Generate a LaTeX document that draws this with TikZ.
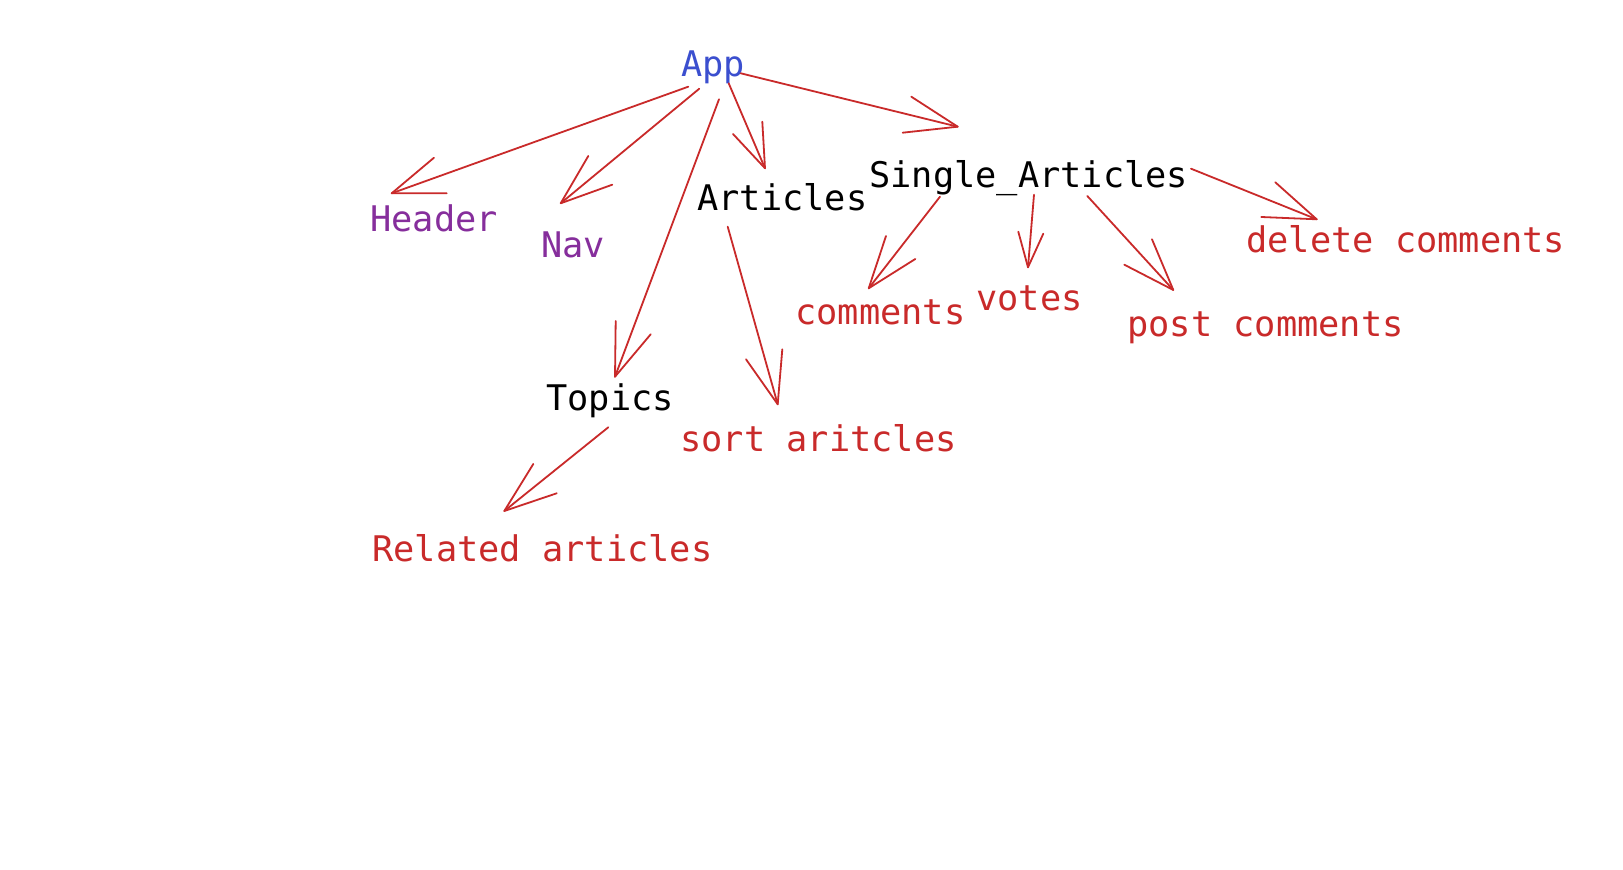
\documentclass[tikz,border=0pt]{standalone}
\usepackage{fontspec}
\setmonofont{DejaVu Sans Mono}
\definecolor{exred}{HTML}{C92A2A}
\definecolor{exviolet}{HTML}{862E9C}
\definecolor{exblue}{HTML}{3B4FCF}
\begin{document}
\begin{tikzpicture}[x=0.5pt,y=-0.5pt,
  lbl/.style={anchor=base west,inner sep=0pt,font=\ttfamily\fontsize{17.65}{20}\selectfont},
  conn/.style={draw=exred,line width=0.9pt,line cap=round,line join=round}]
\useasboundingbox[fill=white] (0,0) rectangle (1623,870);
% labels
\node[lbl,text=exblue] (app) at (681,77) {App};
\node[lbl,text=exviolet] (header) at (370,232) {Header};
\node[lbl,text=exviolet] (nav) at (541,258) {Nav};
\node[lbl,text=black] (articles) at (697,211) {Articles};
\node[lbl,text=black] (single) at (869,188) {Single\_Articles};
\node[lbl,text=exred] (comments) at (795,325) {comments};
\node[lbl,text=exred] (votes) at (976,311) {votes};
\node[lbl,text=exred] (post) at (1127,337) {post comments};
\node[lbl,text=exred] (delete) at (1246,253) {delete comments};
\node[lbl,text=black] (topics) at (546,411) {Topics};
\node[lbl,text=exred] (sort) at (680,452) {sort aritcles};
\node[lbl,text=exred] (related) at (372,562) {Related articles};
% connector end points
\coordinate (a1s) at (688.3,86.7);  \coordinate (a1e) at (391.7,193.3);
\coordinate (a2s) at (699.3,88.7);  \coordinate (a2e) at (560.7,203.3);
\coordinate (a3s) at (719,99.3);    \coordinate (a3e) at (615,376.7);
\coordinate (a4s) at (728.7,83.3);  \coordinate (a4e) at (765,168.3);
\coordinate (a5s) at (740.7,73.3);  \coordinate (a5e) at (957.7,126.7);
\coordinate (a6s) at (727.7,226.7); \coordinate (a6e) at (777.7,404.3);
\coordinate (a7s) at (940,196.7);   \coordinate (a7e) at (868.7,288.3);
\coordinate (a8s) at (1034,194.7);  \coordinate (a8e) at (1028,267.3);
\coordinate (a9s) at (1087.3,196);  \coordinate (a9e) at (1173.3,290);
\coordinate (a10s) at (1191,168.7); \coordinate (a10e) at (1316.7,219.3);
\coordinate (a11s) at (608.3,427.3);\coordinate (a11e) at (504.3,511);
% App -> Header
\draw[conn] (a1s) -- (a1e);
\draw[conn] (434,157.7) -- (a1e) -- (446.7,193.3);
% App -> Nav
\draw[conn] (a2s) -- (a2e);
\draw[conn] (588.3,156) -- (a2e) -- (612.3,184.7);
% App -> Topics
\draw[conn] (a3s) -- (a3e);
\draw[conn] (615.7,321) -- (a3e) -- (650.7,334.3);
% App -> Articles
\draw[conn] (a4s) -- (a4e);
\draw[conn] (733,134) -- (a4e) -- (762.3,121.7);
% App -> Single_Articles
\draw[conn] (a5s) -- (a5e);
\draw[conn] (911.3,96.7) -- (a5e) -- (902.7,132.7);
% Articles -> sort aritcles
\draw[conn] (a6s) -- (a6e);
\draw[conn] (746,359.3) -- (a6e) -- (782.3,349.3);
% Single_Articles -> comments
\draw[conn] (a7s) -- (a7e);
\draw[conn] (886,236) -- (a7e) -- (915.3,259);
% Single_Articles -> votes
\draw[conn] (a8s) -- (a8e);
\draw[conn] (1018.3,231.7) -- (a8e) -- (1043.3,233.7);
% Single_Articles -> post comments
\draw[conn] (a9s) -- (a9e);
\draw[conn] (1124.3,264.7) -- (a9e) -- (1152,239.3);
% Single_Articles -> delete comments
\draw[conn] (a10s) -- (a10e);
\draw[conn] (1275.3,182.3) -- (a10e) -- (1261.3,217);
% Topics -> Related articles
\draw[conn] (a11s) -- (a11e);
\draw[conn] (533.3,464) -- (a11e) -- (556.7,493.3);
\end{tikzpicture}
\end{document}
